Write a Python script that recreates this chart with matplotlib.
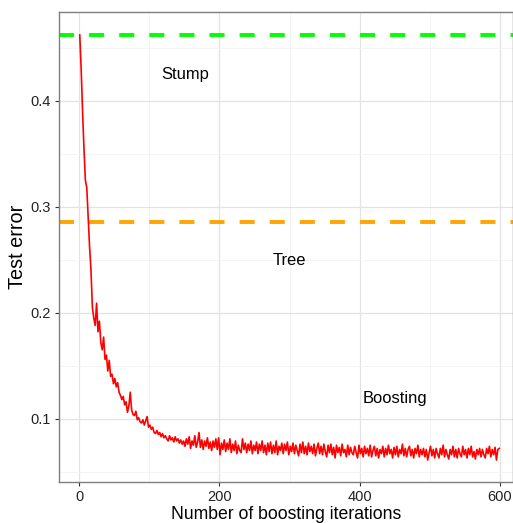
import matplotlib
matplotlib.use("Agg")
import matplotlib.pyplot as plt
from matplotlib.ticker import MultipleLocator

plt.rcParams['font.family'] = ['Liberation Sans', 'DejaVu Sans']

stump_err = 0.462
tree_err = 0.2858

# boosting test error, early iterations
boost_iter_early = [1, 3, 5, 7, 9, 11, 13, 15, 17, 19, 21, 23, 25, 27, 29, 31, 33, 35, 37, 39,
                    41, 43, 45, 47, 49, 51, 53, 55, 57, 59, 61, 63, 65, 67, 69, 71, 73, 75, 77, 79,
                    81, 83, 85, 87, 89, 91, 93, 95, 97, 99, 101, 103, 105, 107, 109, 111, 113, 115,
                    117, 119, 121, 123, 125, 127, 129, 131, 133, 135, 137, 139, 141, 143, 145, 147, 149]
boost_err_early = [0.462, 0.43, 0.39, 0.355, 0.325, 0.318, 0.29, 0.262, 0.24, 0.205,
                   0.195, 0.188, 0.209, 0.182, 0.192, 0.172, 0.165, 0.177, 0.156, 0.16,
                   0.145, 0.155, 0.14, 0.142, 0.133, 0.138, 0.13, 0.134, 0.125, 0.122,
                   0.118, 0.121, 0.113, 0.116, 0.106, 0.112, 0.125, 0.108, 0.104, 0.103,
                   0.107, 0.099, 0.101, 0.097, 0.096, 0.099, 0.094, 0.098, 0.102, 0.092,
                   0.094, 0.09, 0.092, 0.087, 0.086, 0.089, 0.085, 0.087, 0.083, 0.086,
                   0.082, 0.084, 0.081, 0.079, 0.084, 0.08, 0.082, 0.078, 0.083, 0.079,
                   0.081, 0.077, 0.08, 0.076, 0.079]

# iterations 151..599 (every 2nd), error in thousandths
boost_err_late = [
    74, 81, 76, 83, 72, 79, 75, 84, 73, 78,
    87, 73, 80, 71, 79, 74, 82, 72, 78, 70,
    79, 73, 81, 71, 82, 66, 77, 71, 80, 69,
    77, 71, 81, 68, 76, 70, 79, 67, 75, 70,
    68, 81, 71, 77, 68, 76, 70, 79, 67, 75,
    70, 78, 67, 76, 70, 79, 68, 75, 66, 77,
    69, 78, 67, 75, 68, 79, 66, 74, 70, 77,
    67, 76, 70, 78, 66, 74, 69, 77, 67, 75,
    70, 65, 76, 68, 78, 67, 74, 66, 77, 69,
    74, 67, 76, 65, 72, 77, 67, 74, 66, 76,
    69, 64, 75, 68, 76, 66, 73, 63, 75, 68,
    73, 65, 76, 68, 71, 64, 75, 66, 73, 68,
    66, 74, 68, 63, 75, 67, 72, 64, 74, 67,
    72, 65, 75, 64, 70, 74, 65, 72, 63, 71,
    67, 74, 64, 72, 66, 75, 67, 71, 63, 73,
    66, 74, 64, 71, 67, 76, 65, 72, 64, 71,
    74, 65, 71, 63, 72, 67, 75, 64, 71, 66,
    72, 64, 71, 61, 68, 74, 65, 71, 63, 72,
    67, 63, 72, 66, 75, 64, 71, 66, 62, 71,
    66, 74, 64, 71, 63, 72, 67, 64, 74, 66,
    71, 63, 72, 66, 74, 64, 69, 62, 71, 66,
    72, 64, 71, 66, 63, 72, 67, 74, 64, 71,
    66, 73, 61, 71, 72,
]

labels = ["Stump", "Tree", "Boosting"]
label_x = [151, 300, 450]
label_y = [0.425, 0.249, 0.1195]

boost_iter = boost_iter_early + list(range(151, 600, 2))
boost_err = boost_err_early + [v / 1000 for v in boost_err_late]

fig = plt.figure(figsize=(5.13, 5.23), dpi=100)
ax = fig.add_axes([0.115, 0.0784, 0.885, 0.8987])

ax.set_xlim(-28.6, 618.6)
ax.set_ylim(0.0403, 0.4837)

ax.xaxis.set_major_locator(MultipleLocator(200))
ax.xaxis.set_minor_locator(MultipleLocator(100))
ax.yaxis.set_major_locator(MultipleLocator(0.1))
ax.yaxis.set_minor_locator(MultipleLocator(0.05))
ax.grid(which="major", color="#E3E3E3", lw=0.9)
ax.grid(which="minor", color="#F3F3F3", lw=0.6)
ax.set_axisbelow(True)
ax.tick_params(which="minor", length=0)
ax.tick_params(which="major", length=3, width=0.8, color="#333333",
               labelsize=10.5, labelcolor="#222222", pad=3)
ax.set_yticks([0.1, 0.2, 0.3, 0.4])
ax.set_yticklabels(["0.1", "0.2", "0.3", "0.4"])

for s in ax.spines.values():
    s.set_color("#7F7F7F")
    s.set_linewidth(1.0)

ax.axhline(stump_err, color="#00FF00", lw=2.8, ls=(0, (3.87, 3.87)), dash_capstyle="butt")
ax.axhline(tree_err, color="#FFA500", lw=2.8, ls=(0, (3.87, 3.87)), dash_capstyle="butt")
ax.plot(boost_iter, boost_err, color="#FF0000", lw=1.2)

for t, x, y in zip(labels, label_x, label_y):
    ax.text(x, y, t, ha="center", va="center", fontsize=11.9)

ax.set_xlabel("Number of boosting iterations", fontsize=12.7, labelpad=1)
ax.set_ylabel("Test error", fontsize=14.3, labelpad=2.5)

plt.savefig("out.png", dpi=100)
